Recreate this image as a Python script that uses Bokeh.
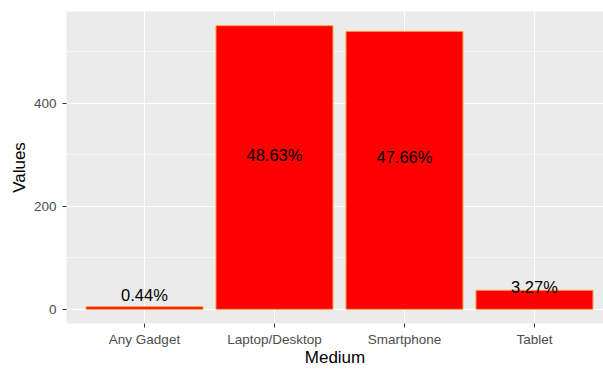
from bokeh.plotting import figure
from bokeh.models import Range1d, FixedTicker, ColumnDataSource
from bokeh.embed import file_html
from bokeh.resources import INLINE
from bokeh.core.properties import value

# ---- data ----
media = ["Any Gadget", "Laptop/Desktop", "Smartphone", "Tablet"]
counts = [5, 551, 540, 37]
percent_labels = ["0.44%", "48.63%", "47.66%", "3.27%"]
y_ticks = [0, 200, 400]
y_minor = [100, 300, 500]

xpos = list(range(1, len(media) + 1))
ymax = max(counts)
pad = 0.05 * ymax
label_lift = 25  # data units above the bar mid-point

src = ColumnDataSource(dict(
    x=xpos,
    top=counts,
    label=percent_labels,
    ly=[c / 2 + label_lift for c in counts],
))

FONT = "Liberation Sans"

p = figure(width=603, height=370, output_backend="svg", toolbar_location=None,
           x_range=Range1d(0.4, 4.531), y_range=Range1d(-pad, ymax + pad),
           min_border_left=66, min_border_right=0, min_border_top=11,
           min_border_bottom=47)

p.background_fill_color = "#EBEBEB"
p.border_fill_color = "white"
p.outline_line_color = None

p.vbar(x="x", top="top", bottom=0, width=0.9, source=src,
       fill_color="red", line_color="#FFA040", line_width=1)

p.text(x="x", y="ly", text="label", source=src,
       text_font=value(FONT), text_font_size="16.5px",
       text_color="black", text_align="center", text_baseline="middle")

# axes
p.xaxis.ticker = FixedTicker(ticks=xpos)
p.xaxis.major_label_overrides = {i: m for i, m in zip(xpos, media)}
p.yaxis.ticker = FixedTicker(ticks=y_ticks, minor_ticks=y_minor)

for ax in (p.xaxis[0], p.yaxis[0]):
    ax.axis_line_color = None
    ax.major_tick_line_color = "#333333"
    ax.major_tick_line_width = 1
    ax.major_tick_in = 0
    ax.major_tick_out = 4
    ax.minor_tick_line_color = None
    ax.major_label_text_font = FONT
    ax.major_label_text_font_size = "13.5px"
    ax.major_label_text_color = "#4D4D4D"
    ax.axis_label_text_font = FONT
    ax.axis_label_text_font_size = "17px"
    ax.axis_label_text_font_style = "normal"
    ax.axis_label_text_color = "black"

p.xaxis.axis_label = "Medium"
p.yaxis.axis_label = "Values"
p.xaxis.major_label_standoff = 4
p.xaxis.axis_label_standoff = -2
p.yaxis.major_label_standoff = 6
p.yaxis.axis_label_standoff = 2

# grid
p.xgrid.grid_line_color = "white"
p.xgrid.grid_line_width = 1.1
p.ygrid.grid_line_color = "white"
p.ygrid.grid_line_width = 1.1
p.ygrid.minor_grid_line_color = "white"
p.ygrid.minor_grid_line_width = 0.55

open("out.html", "w").write(file_html(p, INLINE))
